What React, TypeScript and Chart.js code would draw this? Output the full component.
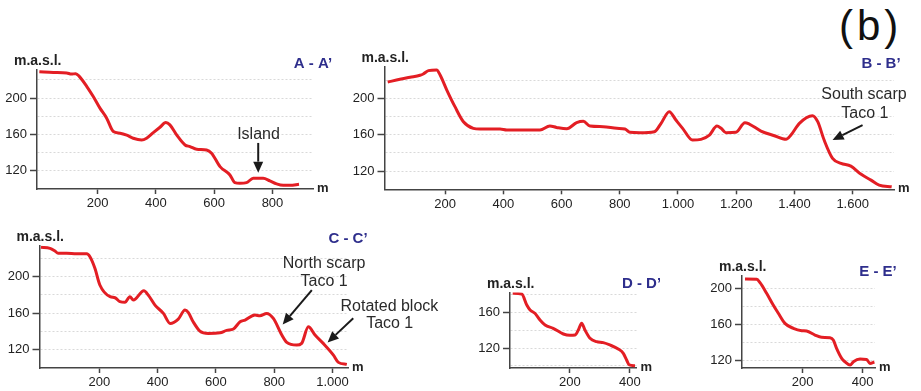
import React, { useEffect, useRef } from 'react';
import { Chart, registerables } from 'chart.js';

Chart.register(...registerables);

// ---------- data ----------
const aDist = [0, 48, 94, 110, 125, 137, 163, 185, 208, 231, 254, 277, 300, 322, 351, 368, 391, 414, 434, 448, 471, 500, 517, 540, 574, 591, 620, 654, 671, 688, 711, 734, 768, 791, 814, 837, 860, 891];
const aElev = [229, 228.3, 227.8, 226.5, 227, 224, 212.8, 201.8, 189, 178, 163.2, 161.4, 159.2, 155.9, 154, 155.9, 162, 168, 173.1, 170.6, 159.6, 148.5, 146.7, 143.8, 143, 139.4, 124.6, 115.5, 107, 106.3, 107, 111.8, 111.8, 108.9, 105.6, 104, 104, 105.2];

const bDist = [3, 45, 80, 114, 125, 143, 171, 183, 206, 234, 263, 297, 320, 389, 412, 526, 560, 583, 618, 652, 675, 698, 743, 790, 818, 835, 869, 919, 942, 970, 993, 1016, 1050, 1079, 1108, 1134, 1148, 1165, 1199, 1230, 1245, 1285, 1331, 1371, 1388, 1417, 1462, 1480, 1502, 1531, 1560, 1594, 1628, 1663, 1691, 1734];
const bElev = [217.9, 220.9, 223.1, 225.3, 226.7, 230.4, 231.1, 225.6, 209.1, 190.8, 174.3, 167, 166.2, 166.2, 165.1, 165.1, 169.5, 168, 166.6, 173.2, 174.7, 169.5, 168.8, 167, 166.2, 162.6, 162.2, 163.3, 172.5, 185.3, 176.1, 167, 154.1, 154.9, 159.6, 169.5, 167, 162.2, 162.6, 173.2, 171.7, 164, 158.9, 154.9, 159.6, 172.5, 180.9, 174.3, 154.1, 134, 128.5, 125.5, 116.7, 110.1, 104.6, 102.8];

const cDist = [0, 31, 48, 59, 88, 122, 157, 168, 185, 202, 237, 254, 271, 288, 305, 317, 353, 368, 391, 420, 443, 471, 494, 505, 522, 545, 574, 614, 637, 660, 683, 700, 734, 751, 774, 797, 826, 843, 877, 894, 917, 940, 968, 1003, 1020, 1049];
const cElev = [232.4, 231.3, 228.3, 225.8, 225.8, 225.3, 225.3, 222, 209.3, 190.9, 178, 176.9, 172.5, 171.8, 178, 174.3, 184.6, 179.8, 168.8, 159.6, 148.6, 153.4, 163.3, 160.8, 150.4, 140.2, 137.6, 138.3, 140.9, 142.4, 150.4, 152.3, 157.8, 157, 159.6, 154.1, 135.8, 127.7, 124.7, 126.6, 144.9, 135.8, 126.6, 113.7, 105.7, 103.5];

const dDist = [9, 39, 56, 67, 83, 100, 117, 144, 178, 200, 217, 228, 239, 250, 267, 289, 311, 333, 361, 378, 389, 398, 417];
const dElev = [181.3, 180.5, 168.2, 162.6, 158.9, 151.4, 145.8, 142.1, 135.7, 134.2, 134.6, 140.2, 147.7, 140.2, 130.9, 127.1, 126, 123.4, 118.9, 114.1, 106.6, 101, 100.2];

const eDist = [8, 47, 58, 80, 102, 119, 141, 169, 197, 213, 241, 263, 291, 302, 313, 330, 341, 358, 369, 391, 413, 424, 439];
const eElev = [210.3, 209.9, 206.2, 194.5, 181.5, 172.4, 161.3, 155.8, 153.2, 152.8, 148.4, 145.9, 145.4, 142.9, 133.7, 122.7, 118.9, 115.2, 118.9, 121.9, 121.5, 117.1, 118.6];

// tick labels
const aXTicks = [200, 400, 600, 800];
const bXTicks = [200, 400, 600, 800, 1000, 1200, 1400, 1600];
const cXTicks = [200, 400, 600, 800, 1000];
const dXTicks = [200, 400];
const eXTicks = [200, 400];
const abcYLabels = [120, 160, 200];
const dYLabels = [120, 160];
const eYLabels = [120, 160, 200];
const gridStep = 20;

// annotation texts
const titles = ['A - A\u2019', 'B - B\u2019', 'C - C\u2019', 'D - D\u2019', 'E - E\u2019'];
const yUnit = 'm.a.s.l.';
const xUnit = 'm';
const figureTag = '(b)';

// ---------- layout / style ----------
const FONT = '"Liberation Sans", Arial, Helvetica, sans-serif';
const RED = '#e31e24';
const AXIS = '#444444';
const TEXT = '#222222';
const BLUE = '#2e2e8c';

type Note = { text: string; at: [number, number] };
type Arrow = { from: [number, number]; to: [number, number] };
interface Panel {
  title: string;
  dist: number[];
  elev: number[];
  xTicks: number[];
  yLabels: number[];
  xMin: number; xMax: number; yMin: number; yMax: number;
  box: { left: number; top: number; width: number; height: number };
  area: { left: number; right: number; top: number; bottom: number };
  titleDx: number; titleDy: number;
  notes: Note[];
  arrows: Arrow[];
}

const panels: Panel[] = [
  {
    title: titles[0], dist: aDist, elev: aElev, xTicks: aXTicks, yLabels: abcYLabels,
    xMin: -8, xMax: 939, yMin: 100, yMax: 231,
    box: { left: 0, top: 50, width: 345, height: 165 },
    area: { left: 37, right: 313, top: 70, bottom: 189 },
    titleDx: 0, titleDy: -6,
    notes: [{ text: 'Island', at: [752, 159.6] }],
    arrows: [{ from: [751, 150.7], to: [751, 118] }],
  },
  {
    title: titles[1], dist: bDist, elev: bElev, xTicks: bXTicks, yLabels: abcYLabels,
    xMin: -8, xMax: 1742, yMin: 100, yMax: 234.4,
    box: { left: 345, top: 50, width: 576, height: 165 },
    area: { left: 384.5, right: 894, top: 67, bottom: 189.3 },
    titleDx: -13, titleDy: -3,
    notes: [{ text: 'South scarp', at: [1639, 203.6] }, { text: 'Taco 1', at: [1642, 183.5] }],
    arrows: [{ from: [1634, 170.6], to: [1531, 154.1] }],
  },
  {
    title: titles[2], dist: cDist, elev: cElev, xTicks: cXTicks, yLabels: abcYLabels,
    xMin: -5, xMax: 1053, yMin: 99.5, yMax: 234.4,
    box: { left: 0, top: 225, width: 460, height: 166 },
    area: { left: 39.5, right: 348, top: 245.5, bottom: 368 },
    titleDx: 0, titleDy: -6.5,
    notes: [
      { text: 'North scarp', at: [971, 214.8] }, { text: 'Taco 1', at: [971, 194.5] },
      { text: 'Rotated block', at: [1195, 167] }, { text: 'Taco 1', at: [1196, 147.9] },
    ],
    arrows: [
      { from: [929, 185.3], to: [829, 147.5] },
      { from: [1071, 154.2], to: [983, 127.7] },
    ],
  },
  {
    title: titles[3], dist: dDist, elev: dElev, xTicks: dXTicks, yLabels: dYLabels,
    xMin: 0, xMax: 422, yMin: 97.6, yMax: 182.2,
    box: { left: 460, top: 250, width: 200, height: 141 },
    area: { left: 510, right: 636.5, top: 292.5, bottom: 368 },
    titleDx: 5, titleDy: -8.5,
    notes: [], arrows: [],
  },
  {
    title: titles[4], dist: eDist, elev: eElev, xTicks: eXTicks, yLabels: eYLabels,
    xMin: -2, xMax: 441, yMin: 112, yMax: 213.6,
    box: { left: 690, top: 250, width: 231, height: 141 },
    area: { left: 742, right: 875, top: 276, bottom: 368 },
    titleDx: 3, titleDy: -4.3,
    notes: [], arrows: [],
  },
];

const fmt = (v: number) =>
  v >= 1000 ? `${Math.floor(v / 1000)}.${String(v % 1000).padStart(3, '0')}` : String(v);

function drawArrow(ctx: CanvasRenderingContext2D, x1: number, y1: number, x2: number, y2: number) {
  const ang = Math.atan2(y2 - y1, x2 - x1);
  const head = 11;
  const half = 5;
  const bx = x2 - head * Math.cos(ang);
  const by = y2 - head * Math.sin(ang);
  ctx.strokeStyle = '#1a1a1a';
  ctx.fillStyle = '#1a1a1a';
  ctx.lineWidth = 2;
  ctx.beginPath();
  ctx.moveTo(x1, y1);
  ctx.lineTo(bx, by);
  ctx.stroke();
  ctx.beginPath();
  ctx.moveTo(x2, y2);
  ctx.lineTo(bx + half * Math.sin(ang), by - half * Math.cos(ang));
  ctx.lineTo(bx - half * Math.sin(ang), by + half * Math.cos(ang));
  ctx.closePath();
  ctx.fill();
}

function ProfileChart({ p }: { p: Panel }) {
  const ref = useRef<HTMLCanvasElement>(null);
  useEffect(() => {
    const canvas = ref.current;
    if (!canvas) return;
    const overlay = {
      id: 'overlay',
      afterDraw(chart: any) {
        const { ctx, chartArea, scales } = chart;
        const xs = scales.x;
        const ys = scales.y;
        ctx.save();
        ctx.textBaseline = 'middle';
        ctx.fillStyle = TEXT;
        ctx.textAlign = 'left';
        ctx.font = `bold 14px ${FONT}`;
        ctx.fillText(yUnit, chartArea.left - 23, chartArea.top - 8.5);
        ctx.font = `bold 13px ${FONT}`;
        ctx.fillText(xUnit, chartArea.right + 4, chartArea.bottom - 1);
        ctx.textAlign = 'center';
        ctx.fillStyle = BLUE;
        ctx.font = `bold 15px ${FONT}`;
        ctx.fillText(p.title, chartArea.right + p.titleDx, chartArea.top + p.titleDy);
        ctx.fillStyle = '#2a2a2a';
        ctx.font = `16px ${FONT}`;
        for (const n of p.notes) {
          ctx.fillText(n.text, xs.getPixelForValue(n.at[0]), ys.getPixelForValue(n.at[1]));
        }
        for (const a of p.arrows) {
          drawArrow(
            ctx,
            xs.getPixelForValue(a.from[0]), ys.getPixelForValue(a.from[1]),
            xs.getPixelForValue(a.to[0]), ys.getPixelForValue(a.to[1]),
          );
        }
        ctx.restore();
      },
    };
    const chart = new Chart(canvas, {
      type: 'line',
      data: {
        datasets: [
          {
            data: p.dist.map((d, i) => ({ x: d, y: p.elev[i] })),
            borderColor: RED,
            borderWidth: 3,
            pointRadius: 0,
            fill: false,
            cubicInterpolationMode: 'monotone',
          },
        ],
      },
      options: {
        responsive: false,
        animation: false,
        devicePixelRatio: 1,
        events: [],
        layout: {
          padding: {
            top: p.area.top - p.box.top,
            right: p.box.left + p.box.width - p.area.right,
            left: 0,
            bottom: 0,
          },
        },
        plugins: { legend: { display: false }, tooltip: { enabled: false }, title: { display: false } },
        scales: {
          x: {
            type: 'linear',
            min: p.xMin,
            max: p.xMax,
            afterBuildTicks: (s: any) => { s.ticks = p.xTicks.map((v) => ({ value: v })); },
            afterFit: (s: any) => { s.height = p.box.top + p.box.height - p.area.bottom; },
            ticks: {
              autoSkip: false, maxRotation: 0, padding: 2, color: TEXT,
              font: { family: FONT, size: 13 },
              callback: (v: any) => fmt(Number(v)),
            },
            grid: { drawOnChartArea: false, drawTicks: true, tickLength: 5, tickColor: AXIS, tickWidth: 1.5 },
            border: { display: true, color: AXIS, width: 1.5 },
          },
          y: {
            type: 'linear',
            min: p.yMin,
            max: p.yMax,
            afterBuildTicks: (s: any) => {
              const t: { value: number }[] = [];
              for (let v = Math.ceil(p.yMin / gridStep) * gridStep; v <= p.yMax; v += gridStep) {
                if (v > p.yMin + 2) t.push({ value: v });
              }
              s.ticks = t;
            },
            afterFit: (s: any) => { s.width = p.area.left - p.box.left; },
            ticks: {
              autoSkip: false, padding: 3, color: TEXT,
              font: { family: FONT, size: 13 },
              callback: (v: any) => (p.yLabels.includes(Number(v)) ? String(v) : ''),
            },
            grid: {
              color: '#d9d9d9', lineWidth: 1, drawTicks: true, tickLength: 7, tickWidth: 1.5,
              tickColor: (c: any) => (c.tick && p.yLabels.includes(c.tick.value) ? AXIS : 'rgba(0,0,0,0)'),
            },
            border: { display: true, color: AXIS, width: 1.5, dash: [2, 2] },
          },
        },
      } as any,
      plugins: [overlay],
    });
    return () => chart.destroy();
  }, [p]);
  return (
    <canvas
      ref={ref}
      width={p.box.width}
      height={p.box.height}
      style={{ position: 'absolute', left: p.box.left, top: p.box.top, width: p.box.width, height: p.box.height }}
    />
  );
}

export default function App() {
  return (
    <div style={{ position: 'absolute', left: 0, top: 0, width: 921, height: 391, background: '#fff', overflow: 'hidden' }}>
      <div
        style={{
          position: 'absolute', left: 839, top: 3, fontFamily: FONT, fontSize: 42,
          lineHeight: '46px', letterSpacing: 4, color: '#111',
        }}
      >
        {figureTag}
      </div>
      {panels.map((p, i) => (
        <ProfileChart key={i} p={p} />
      ))}
    </div>
  );
}
